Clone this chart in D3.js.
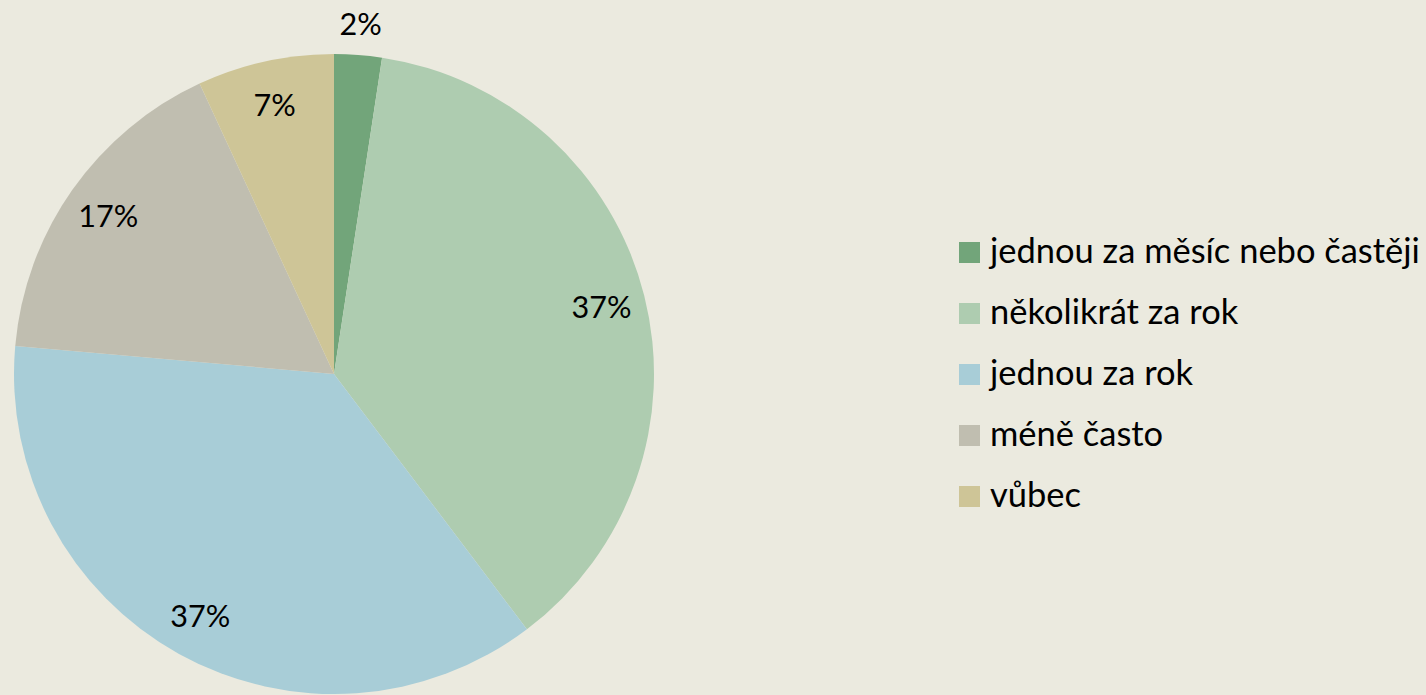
<!DOCTYPE html>
<html><head><meta charset="utf-8">
<script src="https://cdn.jsdelivr.net/npm/d3@7"></script>
<style>
html,body{margin:0;padding:0;background:#EBEADF;}
svg{display:block;}
text{font-family:Lato,"Open Sans",sans-serif;fill:#000;}
</style></head><body>
<svg id="chart" width="1426" height="695"></svg>
<script>
const categories = ["jednou za měsíc nebo častěji","několikrát za rok","jednou za rok","méně často","vůbec"];
const values = [2.4, 37.3, 36.7, 16.7, 6.9];
const labels = ["2%","37%","37%","17%","7%"];
const colors = ["#72A57A","#AECCB0","#A8CDD7","#C0BEB0","#CEC597"];

const W = 1426, H = 695;
const svg = d3.select("#chart");
svg.append("rect").attr("width",W).attr("height",H).attr("fill","#EBEADF");

const cx = 334, cy = 374, R = 320;
const pie = d3.pie().sort(null).value(d => d)(values);
const arc = d3.arc().innerRadius(0).outerRadius(R);
const g = svg.append("g").attr("transform",`translate(${cx},${cy})`);
g.selectAll("path").data(pie).join("path")
  .attr("d", arc).attr("fill",(d,i)=>colors[i]);

const labelArc = d3.arc().innerRadius(276).outerRadius(276);
const outArc = d3.arc().innerRadius(352).outerRadius(352);
const lab = g.selectAll("text.lab").data(pie).join("text").attr("class","lab")
  .attr("text-anchor","middle").attr("dominant-baseline","central")
  .attr("font-size",31)
  .attr("transform",(d,i)=>{
    const p = (i===0 ? outArc : labelArc).centroid(d);
    return `translate(${p[0]},${p[1]})`;
  })
  .text((d,i)=>labels[i]);

// legend
const legY = d3.scalePoint().domain(categories).range([253,497]);
const leg = svg.append("g");
const rows = leg.selectAll("g").data(categories).join("g")
  .attr("transform",d=>`translate(959,${legY(d)})`);
rows.append("rect").attr("x",0).attr("y",-11).attr("width",21).attr("height",21)
  .attr("fill",(d,i)=>colors[i]);
const lt = rows.append("text").attr("x",31).attr("y",10).attr("font-size",30).text(d=>d);
// fit longest legend text to ~430px
const w0 = lt.nodes()[0].getComputedTextLength();
const fs = 30*430/w0;
lt.attr("font-size",fs);
const lw = lab.nodes()[1].getComputedTextLength();
lab.attr("font-size",31*60/lw);
</script></body></html>
